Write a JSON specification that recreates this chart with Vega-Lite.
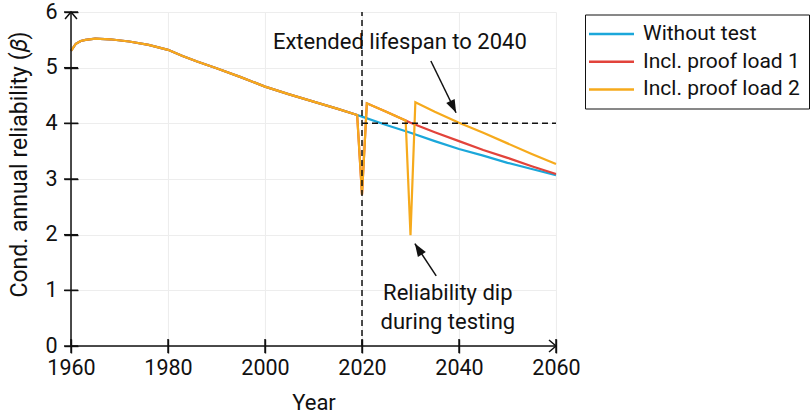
{
  "$schema": "https://vega.github.io/schema/vega-lite/v6.json",
  "width": 485,
  "height": 334,
  "autosize": {"type": "none"},
  "padding": {"left": 71, "top": 12, "right": 256, "bottom": 71},
  "background": "white",
  "config": {
    "font": "Roboto",
    "view": {"stroke": null},
    "axis": {
      "labelFont": "Roboto",
      "labelFontSize": 21.5,
      "labelColor": "#111",
      "labelFlush": false,
      "titleFont": "Roboto",
      "titleFontSize": 22,
      "titleFontWeight": "normal",
      "titleColor": "#111",
      "gridColor": "#ededed",
      "gridWidth": 1.1
    }
  },
  "datasets": {
    "without": [
      {"year": 1960, "beta": 5.30, "case": "Without test"},
      {"year": 1961, "beta": 5.43, "case": "Without test"},
      {"year": 1962, "beta": 5.48, "case": "Without test"},
      {"year": 1963, "beta": 5.50, "case": "Without test"},
      {"year": 1965, "beta": 5.52, "case": "Without test"},
      {"year": 1968, "beta": 5.51, "case": "Without test"},
      {"year": 1972, "beta": 5.47, "case": "Without test"},
      {"year": 1976, "beta": 5.41, "case": "Without test"},
      {"year": 1980, "beta": 5.32, "case": "Without test"},
      {"year": 1983, "beta": 5.21, "case": "Without test"},
      {"year": 1986, "beta": 5.11, "case": "Without test"},
      {"year": 1990, "beta": 4.99, "case": "Without test"},
      {"year": 1995, "beta": 4.83, "case": "Without test"},
      {"year": 2000, "beta": 4.66, "case": "Without test"},
      {"year": 2005, "beta": 4.52, "case": "Without test"},
      {"year": 2010, "beta": 4.39, "case": "Without test"},
      {"year": 2015, "beta": 4.26, "case": "Without test"},
      {"year": 2019, "beta": 4.15, "case": "Without test"},
      {"year": 2020, "beta": 4.12, "case": "Without test"},
      {"year": 2025, "beta": 3.97, "case": "Without test"},
      {"year": 2030, "beta": 3.83, "case": "Without test"},
      {"year": 2035, "beta": 3.68, "case": "Without test"},
      {"year": 2040, "beta": 3.54, "case": "Without test"},
      {"year": 2045, "beta": 3.42, "case": "Without test"},
      {"year": 2050, "beta": 3.29, "case": "Without test"},
      {"year": 2055, "beta": 3.18, "case": "Without test"},
      {"year": 2060, "beta": 3.07, "case": "Without test"}
    ],
    "proof1": [
      {"year": 1960, "beta": 5.30, "case": "Incl. proof load 1"},
      {"year": 1961, "beta": 5.43, "case": "Incl. proof load 1"},
      {"year": 1962, "beta": 5.48, "case": "Incl. proof load 1"},
      {"year": 1963, "beta": 5.50, "case": "Incl. proof load 1"},
      {"year": 1965, "beta": 5.52, "case": "Incl. proof load 1"},
      {"year": 1968, "beta": 5.51, "case": "Incl. proof load 1"},
      {"year": 1972, "beta": 5.47, "case": "Incl. proof load 1"},
      {"year": 1976, "beta": 5.41, "case": "Incl. proof load 1"},
      {"year": 1980, "beta": 5.32, "case": "Incl. proof load 1"},
      {"year": 1983, "beta": 5.21, "case": "Incl. proof load 1"},
      {"year": 1986, "beta": 5.11, "case": "Incl. proof load 1"},
      {"year": 1990, "beta": 4.99, "case": "Incl. proof load 1"},
      {"year": 1995, "beta": 4.83, "case": "Incl. proof load 1"},
      {"year": 2000, "beta": 4.66, "case": "Incl. proof load 1"},
      {"year": 2005, "beta": 4.52, "case": "Incl. proof load 1"},
      {"year": 2010, "beta": 4.39, "case": "Incl. proof load 1"},
      {"year": 2015, "beta": 4.26, "case": "Incl. proof load 1"},
      {"year": 2019, "beta": 4.15, "case": "Incl. proof load 1"},
      {"year": 2020, "beta": 2.72, "case": "Incl. proof load 1"},
      {"year": 2021, "beta": 4.36, "case": "Incl. proof load 1"},
      {"year": 2025, "beta": 4.21, "case": "Incl. proof load 1"},
      {"year": 2029, "beta": 4.05, "case": "Incl. proof load 1"},
      {"year": 2030, "beta": 4.01, "case": "Incl. proof load 1"},
      {"year": 2035, "beta": 3.84, "case": "Incl. proof load 1"},
      {"year": 2040, "beta": 3.68, "case": "Incl. proof load 1"},
      {"year": 2045, "beta": 3.52, "case": "Incl. proof load 1"},
      {"year": 2050, "beta": 3.38, "case": "Incl. proof load 1"},
      {"year": 2055, "beta": 3.23, "case": "Incl. proof load 1"},
      {"year": 2060, "beta": 3.09, "case": "Incl. proof load 1"}
    ],
    "proof2": [
      {"year": 1960, "beta": 5.30, "case": "Incl. proof load 2"},
      {"year": 1961, "beta": 5.43, "case": "Incl. proof load 2"},
      {"year": 1962, "beta": 5.48, "case": "Incl. proof load 2"},
      {"year": 1963, "beta": 5.50, "case": "Incl. proof load 2"},
      {"year": 1965, "beta": 5.52, "case": "Incl. proof load 2"},
      {"year": 1968, "beta": 5.51, "case": "Incl. proof load 2"},
      {"year": 1972, "beta": 5.47, "case": "Incl. proof load 2"},
      {"year": 1976, "beta": 5.41, "case": "Incl. proof load 2"},
      {"year": 1980, "beta": 5.32, "case": "Incl. proof load 2"},
      {"year": 1983, "beta": 5.21, "case": "Incl. proof load 2"},
      {"year": 1986, "beta": 5.11, "case": "Incl. proof load 2"},
      {"year": 1990, "beta": 4.99, "case": "Incl. proof load 2"},
      {"year": 1995, "beta": 4.83, "case": "Incl. proof load 2"},
      {"year": 2000, "beta": 4.66, "case": "Incl. proof load 2"},
      {"year": 2005, "beta": 4.52, "case": "Incl. proof load 2"},
      {"year": 2010, "beta": 4.39, "case": "Incl. proof load 2"},
      {"year": 2015, "beta": 4.26, "case": "Incl. proof load 2"},
      {"year": 2019, "beta": 4.15, "case": "Incl. proof load 2"},
      {"year": 2020, "beta": 2.72, "case": "Incl. proof load 2"},
      {"year": 2021, "beta": 4.36, "case": "Incl. proof load 2"},
      {"year": 2025, "beta": 4.21, "case": "Incl. proof load 2"},
      {"year": 2029, "beta": 4.05, "case": "Incl. proof load 2"},
      {"year": 2030, "beta": 1.99, "case": "Incl. proof load 2"},
      {"year": 2031, "beta": 4.38, "case": "Incl. proof load 2"},
      {"year": 2035, "beta": 4.21, "case": "Incl. proof load 2"},
      {"year": 2040, "beta": 4.01, "case": "Incl. proof load 2"},
      {"year": 2045, "beta": 3.83, "case": "Incl. proof load 2"},
      {"year": 2050, "beta": 3.64, "case": "Incl. proof load 2"},
      {"year": 2055, "beta": 3.45, "case": "Incl. proof load 2"},
      {"year": 2060, "beta": 3.27, "case": "Incl. proof load 2"}
    ]
  },
  "layer": [
    {
      "data": {"name": "without"},
      "mark": {"type": "line", "strokeWidth": 2.2},
      "encoding": {
        "x": {
          "field": "year", "type": "quantitative", "title": "Year",
          "scale": {"domain": [1960, 2060], "nice": false, "zero": false},
          "axis": {
            "values": [1960, 1980, 2000, 2020, 2040, 2060], "format": "d",
            "domain": false, "ticks": true, "tickSize": 14, "tickColor": "#111", "tickWidth": 1.4, "offset": -7,
            "labelPadding": 4, "titlePadding": 14
          }
        },
        "y": {
          "field": "beta", "type": "quantitative", "title": "Cond. annual reliability (𝛽)",
          "scale": {"domain": [0, 6], "nice": false},
          "axis": {
            "values": [0, 1, 2, 3, 4, 5, 6], "format": "d",
            "domain": false, "ticks": true, "tickSize": 14, "tickColor": "#111", "tickWidth": 1.4, "offset": -7,
            "labelPadding": 7, "titlePadding": 13, "titleFontSize": 23, "titleY": 152
          }
        },
        "color": {
          "field": "case", "type": "nominal",
          "scale": {
            "domain": ["Without test", "Incl. proof load 1", "Incl. proof load 2"],
            "range": ["#1ba7da", "#e2433b", "#f6aa1c"]
          },
          "legend": {
            "orient": "none", "legendX": 514, "legendY": 2.5, "title": null,
            "direction": "vertical",
            "strokeColor": "#111", "fillColor": "#ffffff", "cornerRadius": 0,
            "padding": 9, "rowPadding": 5.7,
            "symbolType": "M-2.5,0L2.5,0", "symbolSize": 324, "symbolStrokeWidth": 2.5,
            "symbolOffset": 7, "labelOffset": 21,
            "labelFont": "Roboto", "labelFontSize": 21, "labelColor": "#111", "labelLimit": 300
          }
        }
      }
    },
    {
      "data": {"name": "proof1"},
      "mark": {"type": "line", "strokeWidth": 2.2},
      "encoding": {
        "x": {"field": "year", "type": "quantitative", "title": "Year"},
        "y": {"field": "beta", "type": "quantitative", "title": "Cond. annual reliability (𝛽)"},
        "color": {"field": "case", "type": "nominal"}
      }
    },
    {
      "data": {"name": "proof2"},
      "mark": {"type": "line", "strokeWidth": 2.2},
      "encoding": {
        "x": {"field": "year", "type": "quantitative", "title": "Year"},
        "y": {"field": "beta", "type": "quantitative", "title": "Cond. annual reliability (𝛽)"},
        "color": {"field": "case", "type": "nominal"}
      }
    },
    {
      "data": {"values": [{"year": 2020, "beta": 0, "beta_end": 6}]},
      "mark": {"type": "rule", "color": "#111", "strokeWidth": 1.5, "strokeDash": [6, 4]},
      "encoding": {
        "x": {"field": "year", "type": "quantitative", "title": "Year"},
        "y": {"field": "beta", "type": "quantitative", "title": "Cond. annual reliability (𝛽)"},
        "y2": {"field": "beta_end"}
      }
    },
    {
      "data": {"values": [{"year": 2020, "year_end": 2060, "beta": 4}]},
      "mark": {"type": "rule", "color": "#111", "strokeWidth": 1.5, "strokeDash": [6, 4]},
      "encoding": {
        "x": {"field": "year", "type": "quantitative", "title": "Year"},
        "x2": {"field": "year_end"},
        "y": {"field": "beta", "type": "quantitative", "title": "Cond. annual reliability (𝛽)"}
      }
    },
    {
      "data": {"values": [{"year": 1960, "beta": 0, "beta_end": 6}]},
      "mark": {"type": "rule", "color": "#111", "strokeWidth": 1.5},
      "encoding": {
        "x": {"field": "year", "type": "quantitative", "title": "Year"},
        "y": {"field": "beta", "type": "quantitative", "title": "Cond. annual reliability (𝛽)"},
        "y2": {"field": "beta_end"}
      }
    },
    {
      "data": {"values": [{"year": 1960, "year_end": 2060, "beta": 0}]},
      "mark": {"type": "rule", "color": "#111", "strokeWidth": 1.5},
      "encoding": {
        "x": {"field": "year", "type": "quantitative", "title": "Year"},
        "x2": {"field": "year_end"},
        "y": {"field": "beta", "type": "quantitative", "title": "Cond. annual reliability (𝛽)"}
      }
    },
    {
      "data": {"values": [
        {"year": 1960, "beta": 0}, {"year": 1980, "beta": 0}, {"year": 2000, "beta": 0},
        {"year": 2020, "beta": 0}, {"year": 2040, "beta": 0}, {"year": 2060, "beta": 0}
      ]},
      "mark": {"type": "tick", "orient": "vertical", "size": 14, "thickness": 1.4, "color": "#111", "opacity": 1},
      "encoding": {
        "x": {"field": "year", "type": "quantitative", "title": "Year"},
        "y": {"field": "beta", "type": "quantitative", "title": "Cond. annual reliability (𝛽)"}
      }
    },
    {
      "data": {"values": [
        {"year": 1960, "beta": 0}, {"year": 1960, "beta": 1}, {"year": 1960, "beta": 2},
        {"year": 1960, "beta": 3}, {"year": 1960, "beta": 4}, {"year": 1960, "beta": 5},
        {"year": 1960, "beta": 6}
      ]},
      "mark": {"type": "tick", "orient": "horizontal", "size": 14, "thickness": 1.4, "color": "#111", "opacity": 1},
      "encoding": {
        "x": {"field": "year", "type": "quantitative", "title": "Year"},
        "y": {"field": "beta", "type": "quantitative", "title": "Cond. annual reliability (𝛽)"}
      }
    },
    {
      "data": {"values": [{"year": 1960, "beta": 6}]},
      "mark": {"type": "point", "shape": "M-0.85,1L0,0L0.85,1", "size": 196, "filled": false, "stroke": "#111", "strokeWidth": 1.5, "opacity": 1},
      "encoding": {
        "x": {"field": "year", "type": "quantitative", "title": "Year"},
        "y": {"field": "beta", "type": "quantitative", "title": "Cond. annual reliability (𝛽)"}
      }
    },
    {
      "data": {"values": [{"year": 2060, "beta": 0}]},
      "mark": {"type": "point", "shape": "M-1,-0.85L0,0L-1,0.85", "size": 196, "filled": false, "stroke": "#111", "strokeWidth": 1.5, "opacity": 1},
      "encoding": {
        "x": {"field": "year", "type": "quantitative", "title": "Year"},
        "y": {"field": "beta", "type": "quantitative", "title": "Cond. annual reliability (𝛽)"}
      }
    },
    {
      "data": {"values": [
        {"year": 2034.2, "beta": 5.12, "year_end": 2039.4, "beta_end": 4.19},
        {"year": 2035.3, "beta": 1.26, "year_end": 2030.9, "beta_end": 1.84}
      ]},
      "mark": {"type": "rule", "color": "#111", "strokeWidth": 1.5},
      "encoding": {
        "x": {"field": "year", "type": "quantitative", "title": "Year"},
        "y": {"field": "beta", "type": "quantitative", "title": "Cond. annual reliability (𝛽)"},
        "x2": {"field": "year_end"},
        "y2": {"field": "beta_end"}
      }
    },
    {
      "data": {"values": [{"year": 2039.4, "beta": 4.19}]},
      "mark": {"type": "point", "shape": "M0,0L-0.36,1L0.36,1Z", "size": 676, "filled": true, "color": "#111", "opacity": 1, "angle": 154.3},
      "encoding": {
        "x": {"field": "year", "type": "quantitative", "title": "Year"},
        "y": {"field": "beta", "type": "quantitative", "title": "Cond. annual reliability (𝛽)"}
      }
    },
    {
      "data": {"values": [{"year": 2030.9, "beta": 1.84}]},
      "mark": {"type": "point", "shape": "M0,0L-0.36,1L0.36,1Z", "size": 676, "filled": true, "color": "#111", "opacity": 1, "angle": -32.5},
      "encoding": {
        "x": {"field": "year", "type": "quantitative", "title": "Year"},
        "y": {"field": "beta", "type": "quantitative", "title": "Cond. annual reliability (𝛽)"}
      }
    },
    {
      "data": {"values": [
        {"year": 2027.8, "beta": 5.46, "note": "Extended lifespan to 2040"},
        {"year": 2037.7, "beta": 0.95, "note": "Reliability dip|during testing"}
      ]},
      "mark": {"type": "text", "font": "Roboto", "fontSize": 22, "color": "#111", "align": "center", "baseline": "middle", "lineBreak": "|", "lineHeight": 29},
      "encoding": {
        "x": {"field": "year", "type": "quantitative", "title": "Year"},
        "y": {"field": "beta", "type": "quantitative", "title": "Cond. annual reliability (𝛽)"},
        "text": {"field": "note"}
      }
    }
  ]
}
